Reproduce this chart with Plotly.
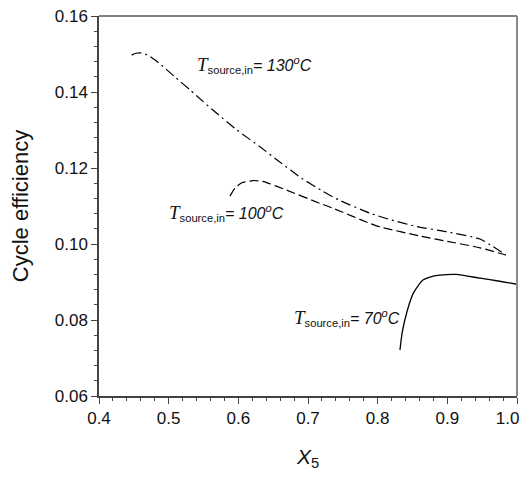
import plotly.graph_objects as go

# Data
x130 = [0.447, 0.453, 0.461, 0.470, 0.480, 0.492, 0.510, 0.531, 0.550, 0.569, 0.598, 0.631,
        0.660, 0.691, 0.722, 0.744, 0.789, 0.820, 0.856, 0.900, 0.947, 0.984]
y130 = [0.1497, 0.1502, 0.1503, 0.1497, 0.1485, 0.1467, 0.1438, 0.1405, 0.1374, 0.1344, 0.1300, 0.1256,
        0.1215, 0.1173, 0.1138, 0.1116, 0.1081, 0.1063, 0.1046, 0.1032, 0.1013, 0.0971]

x100 = [0.588, 0.595, 0.605, 0.621, 0.635, 0.669, 0.717, 0.736, 0.789, 0.803, 0.861, 0.900, 0.947, 0.984]
y100 = [0.1126, 0.1147, 0.1161, 0.1167, 0.1165, 0.1142, 0.1107, 0.1094, 0.1054, 0.1045, 0.1021, 0.1007, 0.0990, 0.0971]

x70 = [0.832, 0.835, 0.839, 0.845, 0.851, 0.858, 0.865, 0.875, 0.889, 0.913, 0.947, 0.975, 1.0]
y70 = [0.0721, 0.0765, 0.0800, 0.0840, 0.0870, 0.0890, 0.0905, 0.0913, 0.0918, 0.0920, 0.0910, 0.0902, 0.0894]

xtick_vals = [0.4, 0.5, 0.6, 0.7, 0.8, 0.9, 1.0]
xtick_text = ["0.4", "0.5", "0.6", "0.7", "0.8", "0.9", "1.0\u00a0\u00a0\u00a0\u00a0"]

labels = ["130", "100", "70"]
label_x = [0.5380, 0.497, 0.6765]
label_y = [0.1471, 0.1082, 0.0805]

fig = go.Figure()
fig.add_trace(go.Scatter(x=x130, y=y130, mode="lines",
                         line=dict(color="black", width=1.2, dash="10px,4px,2px,4px", shape="spline", smoothing=0.5),
                         showlegend=False))
fig.add_trace(go.Scatter(x=x100, y=y100, mode="lines",
                         line=dict(color="black", width=1.2, dash="9px,4px", shape="spline", smoothing=0.5),
                         showlegend=False))
fig.add_trace(go.Scatter(x=x70, y=y70, mode="lines",
                         line=dict(color="black", width=1.3, shape="spline", smoothing=0.5),
                         showlegend=False))

for lab, lx, ly in zip(labels, label_x, label_y):
    txt = ("<span style='font-family:Liberation Serif;font-size:19px'><i>T</i></span>"
           "<sub>source,in</sub><i>= %s<sup>o</sup>C</i>" % lab)
    fig.add_annotation(x=lx, y=ly, xref="x", yref="y", text=txt, showarrow=False,
                       xanchor="left", yanchor="middle",
                       font=dict(family="Liberation Sans", size=16, color="#111"))

axis_common = dict(showgrid=False, zeroline=False, showline=True, linecolor="#444", linewidth=1.5,
                   ticks="outside", tickcolor="#444", tickwidth=1.2, ticklen=6, automargin=False,
                   ticklabeloverflow="allow",
                   tickfont=dict(family="Liberation Sans", size=17, color="#111"))

fig.update_xaxes(range=[0.4, 1.0], tickmode="array", tickvals=xtick_vals, ticktext=xtick_text,
                 minor=dict(dtick=0.02, tick0=0.4, ticks="outside", ticklen=3, tickcolor="#444", tickwidth=1.2),
                 title=dict(text="<i>X</i><sub>5</sub>", font=dict(family="Liberation Sans", size=21, color="#111"),
                            standoff=22),
                 **axis_common)
fig.update_yaxes(range=[0.06, 0.16], dtick=0.02, tick0=0.06, tickformat=".2f",
                 minor=dict(dtick=0.004, ticks="outside", ticklen=3, tickcolor="#444", tickwidth=1.2),
                 title=dict(text="Cycle efficiency", font=dict(family="Liberation Sans", size=22, color="#111"),
                            standoff=22),
                 **axis_common)

# top and right frame lines
fig.add_shape(type="line", xref="paper", yref="paper", x0=0, x1=1, y0=1, y1=1,
              line=dict(color="black", width=1.2))
fig.add_shape(type="line", xref="paper", yref="paper", x0=1, x1=1, y0=0, y1=1,
              line=dict(color="#888", width=2))

# page body has ~8px default margin, so size the figure to fit the window
fig.update_layout(width=523, height=471, margin=dict(l=91, r=14, t=8, b=83, autoexpand=False),
                  plot_bgcolor="white", paper_bgcolor="white")

fig.write_html("out.html")
